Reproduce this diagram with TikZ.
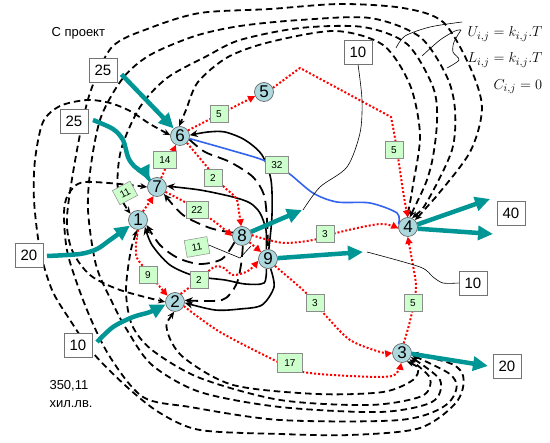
\documentclass[tikz,border=0pt]{standalone}
\usepackage{fontspec}
\setmainfont{Liberation Sans}
\usetikzlibrary{arrows.meta}
\pgfdeclarelayer{bg}
\pgfsetlayers{bg,main}
\definecolor{flowc}{RGB}{0,150,150}
\definecolor{nodeb}{RGB}{173,216,222}
\definecolor{lblg}{RGB}{204,255,204}
\definecolor{blueline}{RGB}{50,100,240}
\begin{document}
\begin{tikzpicture}[x=1pt,y=-1pt,
 nd/.style={circle,draw=black!65,line width=0.6pt,fill=nodeb,minimum size=19pt,inner sep=0pt,font=\fontsize{17}{17}\selectfont},
 vbox/.style={draw=black!55,line width=0.6pt,fill=white,minimum width=28pt,minimum height=24pt,inner sep=0pt,font=\fontsize{15}{15}\selectfont},
 lbl/.style={draw=black!45,line width=0.5pt,fill=lblg,minimum width=18pt,minimum height=17pt,inner sep=1pt,font=\fontsize{10}{10}\selectfont},
 flow/.style={draw=flowc,line width=4.5pt,-{Triangle[length=15pt,width=14pt]}},
 rdot/.style={draw=red,line width=2pt,dash pattern=on 2pt off 2pt,-{Triangle[length=7pt,width=7pt]}},
 dsh/.style={draw=black,line width=1.8pt,dash pattern=on 6.5pt off 4pt,{Stealth[length=7pt,width=6pt]}-{Stealth[length=7pt,width=6pt]}},
 ldsh/.style={draw=black,line width=1.8pt,dash pattern=on 11pt off 6pt,-{Stealth[length=8pt,width=7pt]}},
 sol/.style={draw=black,line width=1.6pt,-{Stealth[length=8pt,width=7pt]}},
 lead/.style={draw=black,line width=0.6pt},
 bl/.style={draw=blueline,line width=1.6pt},
 txt/.style={font=\fontsize{13}{13}\selectfont}
]
\useasboundingbox (0,0) rectangle (550,443);

% circle nodes
\node[nd] (n6) at (180,136) {6};
\node[nd] (n5) at (264,92) {5};
\node[nd] (n7) at (157,187) {7};
\node[nd] (n1) at (138,220) {1};
\node[nd] (n8) at (242,236) {8};
\node[nd] (n9) at (268,259) {9};
\node[nd] (n2) at (175,302) {2};
\node[nd] (n4) at (408,227) {4};
\node[nd] (n3) at (402,353) {3};

% value boxes
\node[vbox] (b25a) at (103,70) {25};
\node[vbox] (b25b) at (74,121) {25};
\node[vbox] (b20a) at (29,255) {20};
\node[vbox] (b10a) at (78,345) {10};
\node[vbox] (b10b) at (358,52) {10};
\node[vbox] (b40) at (511,213) {40};
\node[vbox] (b10c) at (473,283) {10};
\node[vbox] (b20b) at (507,366) {20};

% free ends
\coordinate (s25b) at (93,120);
\coordinate (s20) at (47,256);
\coordinate (s10) at (97,342);
\coordinate (e8) at (302,210);
\coordinate (e9) at (363,252);
\coordinate (e4a) at (490,199);
\coordinate (e4b) at (493,234);
\coordinate (e3) at (488,366);

% texts
\node[txt,anchor=west] (tp) at (48,33) {С проект};
\node[txt,anchor=west] (tv1) at (46,386) {350,11};
\node[txt,anchor=west] (tv2) at (46,404) {хил.лв.};
\node[anchor=west,font=\fontsize{15}{15}\selectfont] (fU) at (464,34) {$U_{i,j}=k_{i,j}.T$};
\node[anchor=west,font=\fontsize{15}{15}\selectfont] (fL) at (464,60) {$L_{i,j}=k_{i,j}.T$};
\node[anchor=west,font=\fontsize{15}{15}\selectfont] (fC) at (490,87) {$C_{i,j}=0$};

\begin{pgfonlayer}{bg}
% dashed arcs
\draw[dsh] plot[smooth] coordinates {(n4.95) (413,185) (420,135) (410,85) (383,45) (335,31) (270,42) (228,57) (198,82) (186,110) (n6.95)};
\draw[dsh] plot[smooth] coordinates {(n4.80) (430,170) (437,122) (433,87) (407,44) (363,27) (300,28) (240,40) (207,56) (167,78) (140,107) (121,150) (118,190) (n1.140)};
\draw[dsh] plot[smooth] coordinates {(n4.65) (428,200) (452,150) (455,110) (447,77) (420,37) (370,18) (300,20) (240,26) (195,36) (150,55) (123,78) (101,117) (91,165) (88,210) (96,265) (112,302) (127,330) (152,365) (200,392) (280,407) (380,412) (432,402) (440,380) (n3.-25)};
\draw[dsh] plot[smooth] coordinates {(n4.45) (435,198) (470,152) (482,108) (470,67) (443,22) (403,8) (340,4) (270,9) (200,13) (150,28) (112,47) (90,93) (77,150) (67,217) (72,250) (90,275) (120,290) (n2.180)};
\draw[dsh] plot[smooth] coordinates {(n2.265) (167,330) (183,357) (233,385) (317,394) (383,392) (413,380) (418,368) (n3.-60)};
\draw[dsh] plot[smooth] coordinates {(n1.265) (130,255) (126,292) (132,325) (152,350) (200,378) (280,400) (370,405) (422,396) (430,378) (n3.-40)};
\draw[dsh] plot[smooth] coordinates {(n3.-10) (455,380) (446,405) (400,420) (280,420) (190,407) (143,397) (110,357) (87,310) (68,255) (64,215) (68,195) (85,182) (n7.180)};
\draw[dsh] plot[smooth] coordinates {(n3.0) (460,370) (458,400) (420,428) (350,435) (280,434) (200,430) (160,413) (127,387) (93,353) (70,320) (52,290) (40,250) (34,200) (35,160) (43,122) (60,106) (87,100) (110,103) (130,111) (150,124) (n6.175)};

% long dashed
\draw[ldsh] plot[smooth] coordinates {(n8.160) (210,228) (183,215) (n7.-45)};
\draw[ldsh] plot[smooth] coordinates {(n8.-140) (222,259) (200,264) (178,258) (160,245) (n1.-30)};
\draw[ldsh] plot[smooth] coordinates {(n8.-85) (241,265) (236,285) (222,300) (n2.10)};
\draw[ldsh,-] plot[smooth] coordinates {(n6.-20) (205,152) (230,162) (253,177) (264,195) (267,220) (n9.90)};

% solid black
\draw[sol] plot[smooth] coordinates {(n9.85) (272,215) (271,180) (262,155) (245,140) (225,132) (208,132) (n6.5)};
\draw[sol] plot[smooth] coordinates {(n9.100) (266,230) (260,213) (250,203) (233,197) (200,190) (n7.5)};
\draw[sol] plot[smooth] coordinates {(n9.-100) (264,283) (245,284) (225,280) (195,276) (170,265) (152,245) (n1.-45)};
\draw[sol] plot[smooth] coordinates {(n9.-75) (274,287) (262,305) (240,309) (215,310) (n2.-5)};

% blue
\draw[bl] plot[smooth] coordinates {(n6.-15) (230,150) (263,160) (287,172) (313,193) (337,202) (370,203) (397,213) (n4.165)};

% red dotted
\draw[rdot] (n6.35) -- (n5.205);
\draw[rdot] (n5.25) -- (300,68) -- (391,117) .. controls (398,150) and (402,190) .. (n4.north);
\draw[rdot] plot[smooth] coordinates {(n6.-45) (203,162) (222,185) (236,198) (239,212) (n8.95)};
\draw[rdot] (n7.65) -- (n6.-115);
\draw[rdot] (n1.60) -- (n7.-110);
\draw[rdot] plot[smooth] coordinates {(n7.-30) (190,205) (215,222) (n8.180)};
\draw[rdot] plot[smooth] coordinates {(n1.-90) (136,245) (137,258) (148,272) (160,287) (n2.140)};
\draw[rdot] plot[smooth] coordinates {(n2.55) (199,280) (214,267) (224,268) (233,275) (248,271) (n9.190)};
\draw[rdot] (n8.-40) -- (n9.135);
\draw[rdot] plot[smooth] coordinates {(n8.5) (265,239) (285,243) (313,240) (340,232) (380,224) (n4.188)};
\draw[rdot] plot[smooth] coordinates {(n9.-45) (303,290) (315,303) (327,317) (350,340) (380,352) (n3.180)};
\draw[rdot] plot[smooth] coordinates {(n3.80) (409,325) (414,303) (416,285) (412,260) (n4.-92)};
\draw[rdot] plot[smooth] coordinates {(n2.-25) (220,332) (278,362) (303,372) (350,376) (392,376) (n3.-95)};

% teal flows
\draw[flow,shorten <=6pt] (b25a.east) -- (n6.130);
\draw[flow] plot[smooth] coordinates {(s25b) (113,129) (123,140) (128,157) (134,166) (145,174) (n7.140)};
\draw[flow] plot[smooth] coordinates {(s20) (80,254) (97,249) (110,240) (n1.215)};
\draw[flow] plot[smooth] coordinates {(s10) (113,327) (133,317) (150,312) (n2.195)};
\draw[flow] (n8.25) -- (e8);
\draw[flow] (n9.5) -- (e9);
\draw[flow] (n4.15) -- (e4a);
\draw[flow] (n4.-10) -- (e4b);
\draw[flow] (n3.-5) -- (e3);

% thin leaders
\draw[lead] plot[smooth] coordinates {(b10b.south) (362,100) (360,133) (347,167) (320,187) (303,210)};
\draw[lead] plot[smooth] coordinates {(b10c.west) (443,283) (433,277) (420,267) (367,252)};
\draw[lead] plot[smooth] coordinates {(462,22) (430,27) (405,36) (396,48)};
\draw[lead] plot[smooth] coordinates {(422,56) (440,40) (455,31) (461,30)};
\draw[lead] plot[smooth] coordinates {(461,30) (454,42) (453,52) (459,60) (447,68)};
\end{pgfonlayer}

% green labels
\node[lbl] (l65) at (219,114) {5};
\node[lbl,minimum width=23pt] (l76) at (165,160) {14};
\node[lbl] (l68) at (213,178) {2};
\node[lbl,minimum width=20pt,minimum height=16pt,rotate=28] (l17) at (125,193) {11};
\node[lbl,minimum width=22pt] (l78) at (197,210) {22};
\node[lbl,minimum width=23pt] (l32) at (277,165) {32};
\node[lbl,minimum width=23pt,rotate=10] (l11b) at (197,247) {11};
\node[lbl] (l12) at (148,275) {9};
\node[lbl] (l29) at (199,280) {2};
\node[lbl] (l84) at (325,234) {3};
\node[lbl] (l93) at (315,303) {3};
\node[lbl] (l54) at (394,150) {5};
\node[lbl] (l34) at (413,303) {5};
\node[lbl,minimum width=25pt,minimum height=19pt] (l23) at (290,363) {17};

\begin{pgfonlayer}{bg}
\draw[lead] (l11b.east) -- (240,258) -- (251,246);
\end{pgfonlayer}
\end{tikzpicture}
\end{document}
